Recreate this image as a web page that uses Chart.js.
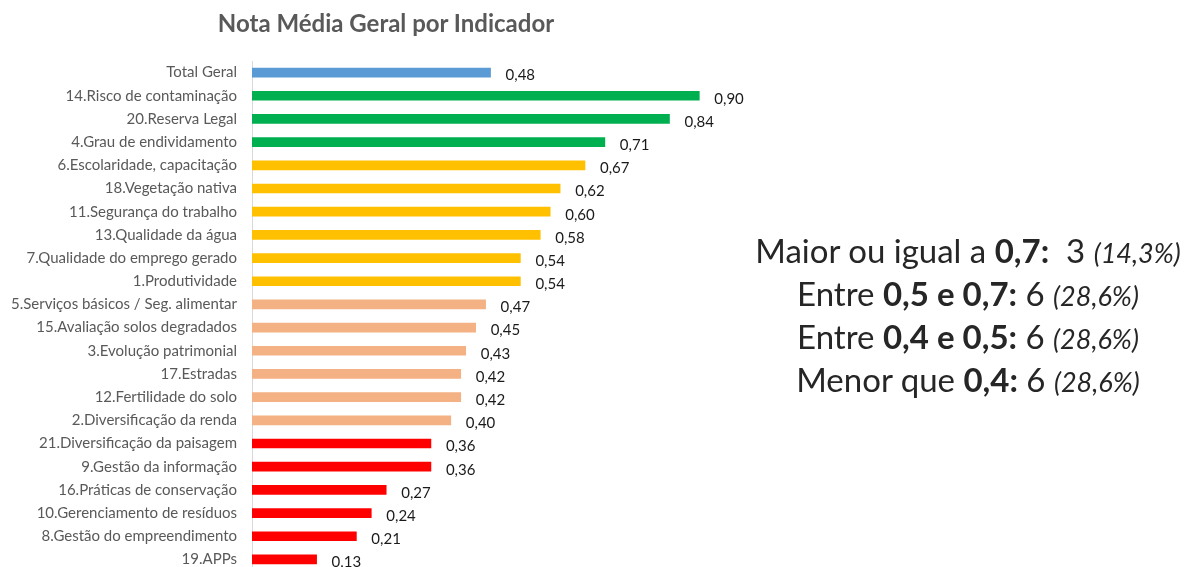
<!DOCTYPE html>
<html>
<head>
<meta charset="utf-8">
<script src="https://cdn.jsdelivr.net/npm/chart.js@4/dist/chart.umd.min.js"></script>
<style>
  html, body { margin: 0; padding: 0; background: #fff; overflow: hidden; }
  #wrap { position: relative; width: 1189px; height: 567px; }
  #barChart { position: absolute; left: 0; top: 0; }
  #title {
    position: absolute; left: 186px; top: 8px; width: 400px; text-align: center;
    font-family: Lato, sans-serif; font-size: 24px; font-weight: bold; color: #595959;
  }
  #summary {
    position: absolute; left: 568px; top: 229px; width: 800px;
    text-align: center; font-family: Lato, sans-serif; font-size: 33px;
    color: #262626; white-space: nowrap;
  }
  #summary div { height: 43px; line-height: 43px; }
  #summary i { font-size: 27px; }
</style>
</head>
<body>
<div id="wrap">
  <canvas id="barChart" width="772" height="587"></canvas>
  <div id="title">Nota Média Geral por Indicador</div>
  <div id="summary"></div>
</div>
<script>
// Indicators, top to bottom
const indicators = [
  'Total Geral',
  '14.Risco de contaminação',
  '20.Reserva Legal',
  '4.Grau de endividamento',
  '6.Escolaridade, capacitação',
  '18.Vegetação nativa',
  '11.Segurança do trabalho',
  '13.Qualidade da água',
  '7.Qualidade do emprego gerado',
  '1.Produtividade',
  '5.Serviços básicos / Seg. alimentar',
  '15.Avaliação solos degradados',
  '3.Evolução patrimonial',
  '17.Estradas',
  '12.Fertilidade do solo',
  '2.Diversificação da renda',
  '21.Diversificação da paisagem',
  '9.Gestão da informação',
  '16.Práticas de conservação',
  '10.Gerenciamento de resíduos',
  '8.Gestão do empreendimento',
  '19.APPs'
];

const notas = [0.48, 0.90, 0.84, 0.71, 0.67, 0.62, 0.60, 0.58, 0.54, 0.54,
  0.47, 0.45, 0.43, 0.42, 0.42, 0.40, 0.36, 0.36, 0.27, 0.24, 0.21, 0.13];

// Summary lines on the right
const faixas = ['Maior ou igual a ', 'Entre ', 'Entre ', 'Menor que '];
const limites = ['0,7:', '0,5 e 0,7:', '0,4 e 0,5:', '0,4:'];
const contagens = ['&nbsp;3', '6', '6', '6'];
const percentuais = ['(14,3%)', '(28,6%)', '(28,6%)', '(28,6%)'];

function barColor(v, i) {
  if (i === 0) return '#5B9BD5';
  if (v >= 0.7) return '#00B050';
  if (v >= 0.5) return '#FFC000';
  if (v >= 0.4) return '#F4B183';
  return '#FF0000';
}

function fmt(v) {
  return v.toFixed(2).replace('.', ',');
}

document.getElementById('summary').innerHTML = faixas.map((f, i) =>
  `<div>${f}<b>${limites[i]}</b> ${contagens[i]} <i>${percentuais[i]}</i></div>`
).join('');

// Draw value labels after the bars
const valueLabels = {
  id: 'valueLabels',
  afterDatasetsDraw(chart) {
    const ctx = chart.ctx;
    const meta = chart.getDatasetMeta(0);
    ctx.save();
    ctx.font = '15px Lato, sans-serif';
    ctx.fillStyle = '#1a1a1a';
    ctx.textBaseline = 'middle';
    ctx.textAlign = 'left';
    meta.data.forEach((bar, i) => {
      ctx.fillText(fmt(notas[i]), bar.x + 15, bar.y + 3);
    });
    ctx.restore();
  }
};

const ctx = document.getElementById('barChart').getContext('2d');
new Chart(ctx, {
  type: 'bar',
  data: {
    labels: indicators,
    datasets: [{
      data: notas,
      backgroundColor: notas.map(barColor),
      barThickness: 9
    }]
  },
  options: {
    indexAxis: 'y',
    responsive: false,
    animation: false,
    layout: { padding: { left: 0, right: 23, top: 61, bottom: 0 } },
    plugins: {
      legend: { display: false },
      tooltip: { enabled: false },
      title: { display: false }
    },
    scales: {
      x: { display: false, min: 0, max: 1 },
      y: {
        grid: { display: false },
        border: { display: true, color: '#D9D9D9', width: 1 },
        ticks: {
          color: '#595959',
          padding: 7,
          font: { family: 'Lato, sans-serif', size: 15 },
          autoSkip: false
        },
        afterFit(scale) { scale.width = 252; }
      }
    }
  },
  plugins: [valueLabels]
});
</script>
</body>
</html>
